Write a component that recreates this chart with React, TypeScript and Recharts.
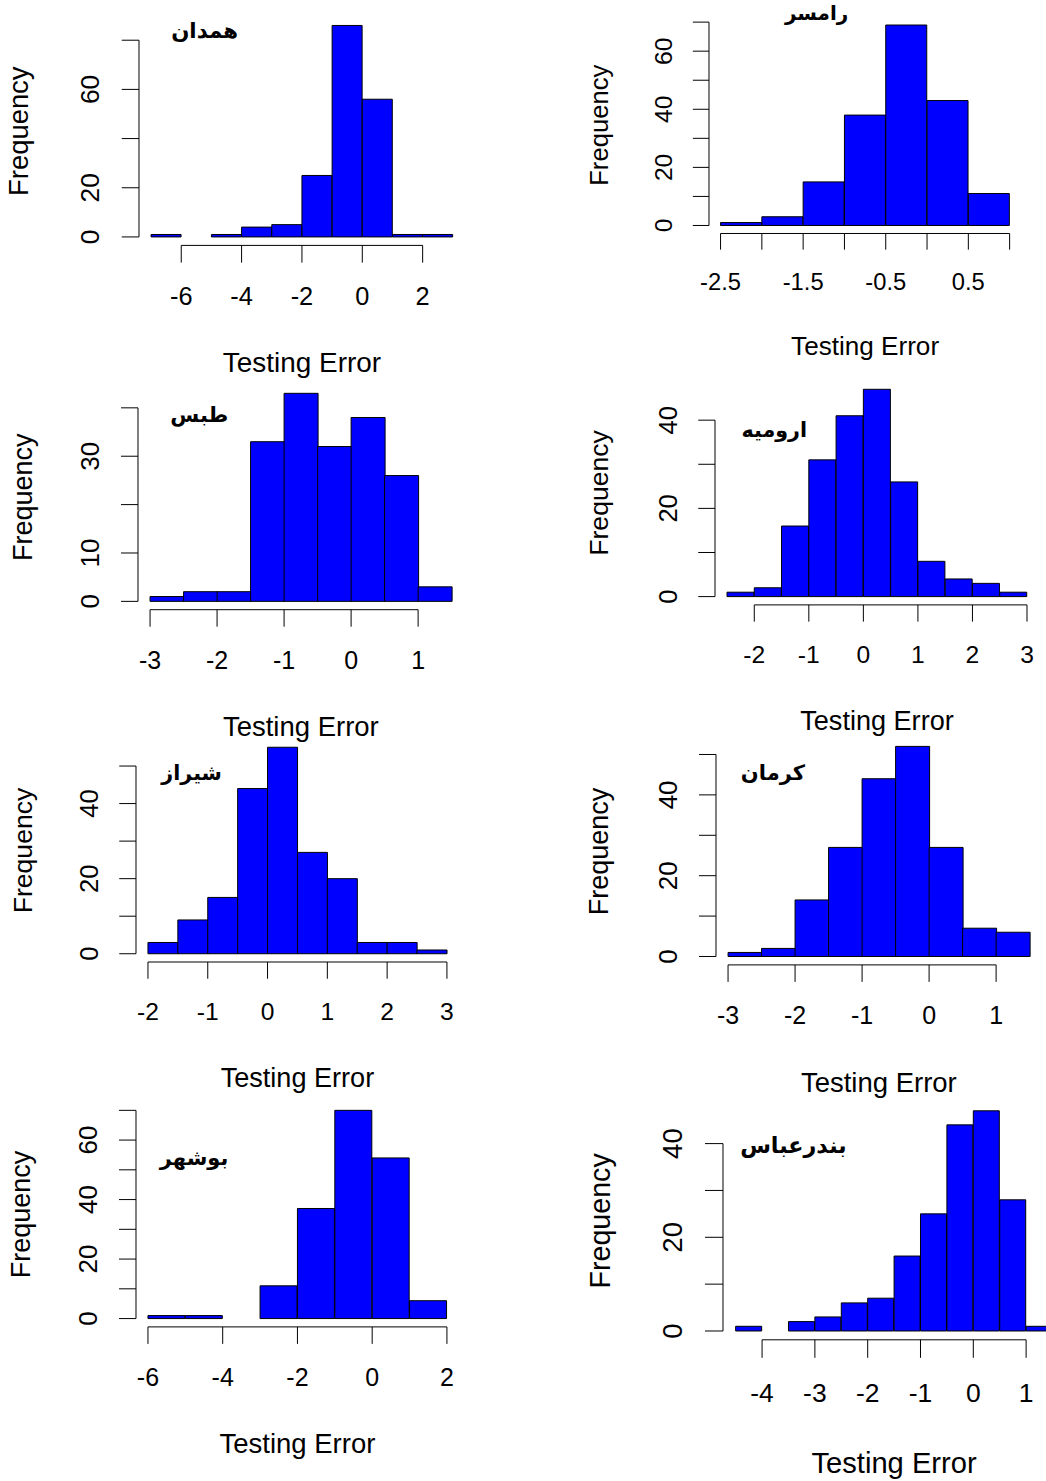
import { ComposedChart, Bar, XAxis, YAxis, ReferenceLine, Label } from 'recharts'

// bin edges and counts (180 values per city)
const hamedanBreaks = [-7, -6, -5, -4, -3, -2, -1, 0, 1, 2, 3]
const hamedanCounts = [1, 0, 1, 4, 5, 25, 86, 56, 1, 1]
const ramsarBreaks = [-2.5, -2, -1.5, -1, -0.5, 0, 0.5, 1]
const ramsarCounts = [1, 3, 15, 38, 69, 43, 11]
const tabasBreaks = [-3, -2.5, -2, -1.5, -1, -0.5, 0, 0.5, 1, 1.5]
const tabasCounts = [1, 2, 2, 33, 43, 32, 38, 26, 3]
const urmiaBreaks = [-2.5, -2, -1.5, -1, -0.5, 0, 0.5, 1, 1.5, 2, 2.5, 3]
const urmiaCounts = [1, 2, 16, 31, 41, 47, 26, 8, 4, 3, 1]
const shirazBreaks = [-2, -1.5, -1, -0.5, 0, 0.5, 1, 1.5, 2, 2.5, 3]
const shirazCounts = [3, 9, 15, 44, 55, 27, 20, 3, 3, 1]
const kermanBreaks = [-3, -2.5, -2, -1.5, -1, -0.5, 0, 0.5, 1, 1.5]
const kermanCounts = [1, 2, 14, 27, 44, 52, 27, 7, 6]
const bushehrBreaks = [-6, -5, -4, -3, -2, -1, 0, 1, 2]
const bushehrCounts = [1, 1, 0, 11, 37, 70, 54, 6]
const bandarBreaks = [-4.5, -4, -3.5, -3, -2.5, -2, -1.5, -1, -0.5, 0, 0.5, 1, 1.5]
const bandarCounts = [1, 0, 2, 3, 6, 7, 16, 25, 44, 47, 28, 1]

// axis ticks, and the ones R kept a label for
const hamedanXTicks = [-6, -4, -2, 0, 2]
const hamedanYTicks = [0, 20, 40, 60, 80]
const hamedanYLabels = [0, 20, 60]
const ramsarXTicks = [-2.5, -2, -1.5, -1, -0.5, 0, 0.5, 1]
const ramsarXLabels = [-2.5, -1.5, -0.5, 0.5]
const ramsarYTicks = [0, 10, 20, 30, 40, 50, 60, 70]
const ramsarYLabels = [0, 20, 40, 60]
const tabasXTicks = [-3, -2, -1, 0, 1]
const tabasYTicks = [0, 10, 20, 30, 40]
const tabasYLabels = [0, 10, 30]
const urmiaXTicks = [-2, -1, 0, 1, 2, 3]
const urmiaYTicks = [0, 10, 20, 30, 40]
const urmiaYLabels = [0, 20, 40]
const shirazXTicks = [-2, -1, 0, 1, 2, 3]
const shirazYTicks = [0, 10, 20, 30, 40, 50]
const shirazYLabels = [0, 20, 40]
const kermanXTicks = [-3, -2, -1, 0, 1]
const kermanYTicks = [0, 10, 20, 30, 40, 50]
const kermanYLabels = [0, 20, 40]
const bushehrXTicks = [-6, -4, -2, 0, 2]
const bushehrYTicks = [0, 10, 20, 30, 40, 50, 60, 70]
const bushehrYLabels = [0, 20, 40, 60]
const bandarXTicks = [-4, -3, -2, -1, 0, 1]
const bandarYTicks = [0, 10, 20, 30, 40]
const bandarYLabels = [0, 20, 40]

const LATIN = '"Liberation Sans", Arial, sans-serif'
const PERSIAN = '"DejaVu Sans", sans-serif'

// page layout of each plot region (px), font scale, text anchors
const panels = [
  { name: 'همدان', breaks: hamedanBreaks, counts: hamedanCounts, xTicks: hamedanXTicks, xLabels: hamedanXTicks, yTicks: hamedanYTicks, yLabels: hamedanYLabels,
    box: { left: 139.4, top: 16.8, width: 325.9, height: 228.4 }, s: 1.015, nameAt: [205, 38], freqX: 28, titleY: 372 },
  { name: 'رامسر', breaks: ramsarBreaks, counts: ramsarCounts, xTicks: ramsarXTicks, xLabels: ramsarXLabels, yTicks: ramsarYTicks, yLabels: ramsarYLabels,
    box: { left: 709.4, top: 16.5, width: 312.2, height: 216.5 }, s: 0.95, nameAt: [817, 20], freqX: 608, titleY: 354.5 },
  { name: 'طبس', breaks: tabasBreaks, counts: tabasCounts, xTicks: tabasXTicks, xLabels: tabasXTicks, yTicks: tabasYTicks, yLabels: tabasYLabels,
    box: { left: 138.2, top: 384.9, width: 325.7, height: 224.7 }, s: 1.0, nameAt: [199.5, 422], freqX: 32, titleY: 735.5 },
  { name: 'ارومیه', breaks: urmiaBreaks, counts: urmiaCounts, xTicks: urmiaXTicks, xLabels: urmiaXTicks, yTicks: urmiaYTicks, yLabels: urmiaYLabels,
    box: { left: 714.7, top: 381.4, width: 324, height: 223.9 }, s: 0.985, nameAt: [774, 437], freqX: 608, titleY: 730.5 },
  { name: 'شیراز', breaks: shirazBreaks, counts: shirazCounts, xTicks: shirazXTicks, xLabels: shirazXTicks, yTicks: shirazYTicks, yLabels: shirazYLabels,
    box: { left: 136.4, top: 738.6, width: 322.9, height: 223 }, s: 0.985, nameAt: [192, 780], freqX: 32, titleY: 1086.5 },
  { name: 'کرمان', breaks: kermanBreaks, counts: kermanCounts, xTicks: kermanXTicks, xLabels: kermanXTicks, yTicks: kermanYTicks, yLabels: kermanYLabels,
    box: { left: 715.6, top: 737.5, width: 325.7, height: 226.9 }, s: 1.0, nameAt: [772.5, 780], freqX: 608, titleY: 1091.5 },
  { name: 'بوشهر', breaks: bushehrBreaks, counts: bushehrCounts, xTicks: bushehrXTicks, xLabels: bushehrXTicks, yTicks: bushehrYTicks, yLabels: bushehrYLabels,
    box: { left: 136.4, top: 1101.7, width: 322.9, height: 224.9 }, s: 1.0, nameAt: [194.5, 1165], freqX: 30, titleY: 1452.5 },
  { name: 'بندرعباس', breaks: bandarBreaks, counts: bandarCounts, xTicks: bandarXTicks, xLabels: bandarXTicks, yTicks: bandarYTicks, yLabels: bandarYLabels,
    box: { left: 722.6, top: 1101.7, width: 342.2, height: 237.8 }, s: 1.06, nameAt: [793, 1153], freqX: 610, titleY: 1472.7 },
]

type Panel = typeof panels[number]

const PAD_L = 160
const PAD_T = 25
const PAD_R = 10
const PAD_B = 140

function Hist({ p }: { p: Panel }) {
  const data = p.counts.map((c, i) => ({ mid: (p.breaks[i] + p.breaks[i + 1]) / 2, count: c }))
  const lo = p.breaks[0]
  const hi = p.breaks[p.breaks.length - 1]
  const maxC = Math.max(...p.counts)
  // R's default 4% axis extension
  const xDomain = [lo - 0.04 * (hi - lo), hi + 0.04 * (hi - lo)]
  const yDomain = [-0.04 * maxC, 1.04 * maxC]
  const left = p.box.left - PAD_L
  const top = p.box.top - PAD_T
  const s = p.s
  const tick = 17 * s

  const xTick = (props: any) => {
    const { x, y, payload } = props
    if (!p.xLabels.includes(payload.value)) return <g />
    return (
      <text x={x} y={y + 42 * s} textAnchor="middle" fontSize={25 * s} fill="#000" fontFamily={LATIN}>
        {String(payload.value)}
      </text>
    )
  }

  const yTick = (props: any) => {
    const { x, y, payload } = props
    if (!p.yLabels.includes(payload.value)) return <g />
    const tx = x - 22 * s
    return (
      <text x={tx} y={y} transform={`rotate(-90 ${tx} ${y})`} textAnchor="middle" fontSize={26 * s} fill="#000" fontFamily={LATIN}>
        {String(payload.value)}
      </text>
    )
  }

  const freqLabel = () => {
    const fx = p.freqX - left
    const fy = PAD_T + p.box.height / 2
    return (
      <text x={fx} y={fy} transform={`rotate(-90 ${fx} ${fy})`} textAnchor="middle" fontSize={27 * s} fill="#000" fontFamily={LATIN}>
        Frequency
      </text>
    )
  }

  const nameLabel = () => (
    <text x={p.nameAt[0] - left} y={p.nameAt[1] - top} textAnchor="middle" fontSize={21 * s} fontWeight="bold" fill="#000" fontFamily={PERSIAN}>
      {p.name}
    </text>
  )

  const xTitle = () => (
    <text x={PAD_L + p.box.width / 2} y={p.titleY - top} textAnchor="middle" fontSize={27.5 * s} fill="#000" fontFamily={LATIN}>
      Testing Error
    </text>
  )

  const lastX = p.xTicks[p.xTicks.length - 1]
  const lastY = p.yTicks[p.yTicks.length - 1]

  return (
    <div style={{ position: 'absolute', left, top }}>
      <ComposedChart
        width={p.box.width + PAD_L + PAD_R}
        height={p.box.height + PAD_T + PAD_B}
        data={data}
        margin={{ top: PAD_T, right: PAD_R, bottom: 0, left: 0 }}
        barCategoryGap={0}
        barGap={0}
      >
        <XAxis
          type="number"
          dataKey="mid"
          domain={xDomain}
          ticks={p.xTicks}
          interval={0}
          allowDataOverflow
          axisLine={false}
          tickSize={tick}
          tickMargin={0}
          stroke="#000"
          height={PAD_B}
          tick={xTick}
        >
          <Label content={xTitle} />
        </XAxis>
        <YAxis
          type="number"
          domain={yDomain}
          ticks={p.yTicks}
          interval={0}
          allowDataOverflow
          axisLine={false}
          tickSize={tick}
          tickMargin={0}
          stroke="#000"
          width={PAD_L}
          tick={yTick}
        >
          <Label content={freqLabel} />
          <Label content={nameLabel} />
        </YAxis>
        <ReferenceLine
          segment={[{ x: p.xTicks[0], y: yDomain[0] }, { x: lastX, y: yDomain[0] }]}
          stroke="#000"
          strokeWidth={1}
          ifOverflow="visible"
        />
        <ReferenceLine
          segment={[{ x: xDomain[0], y: 0 }, { x: xDomain[0], y: lastY }]}
          stroke="#000"
          strokeWidth={1}
          ifOverflow="visible"
        />
        <Bar dataKey="count" fill="#0000ff" stroke="#000" strokeWidth={1} isAnimationActive={false} />
      </ComposedChart>
    </div>
  )
}

export default function App() {
  return (
    <div style={{ position: 'absolute', left: 0, top: 0, width: 1046, height: 1481, overflow: 'hidden', background: '#fff' }}>
      {panels.map((p) => (
        <Hist key={p.name} p={p} />
      ))}
    </div>
  )
}
